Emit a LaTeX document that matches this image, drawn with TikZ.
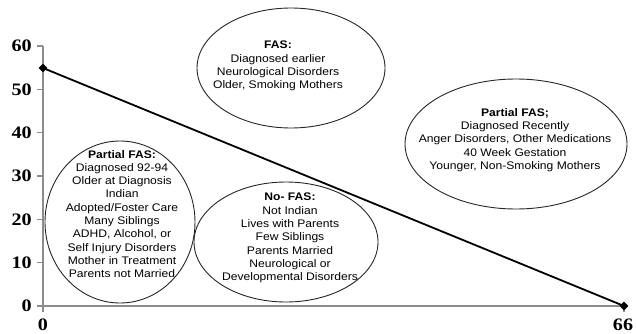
\documentclass[tikz,border=0pt]{standalone}
\usepackage{fontspec}
\setmainfont{Liberation Sans}
\newfontfamily\labfont[FakeStretch=1.1]{Liberation Sans}
\newfontfamily\tickfont[FakeStretch=1.15]{Liberation Serif}
\usetikzlibrary{shapes.geometric}
\begin{document}
\begin{tikzpicture}[x=1pt,y=-1pt,
  axisline/.style={draw=black!45, line width=1.3pt},
  blob/.style={draw=black!85, line width=0.9pt, ellipse, inner sep=0pt},
  txt/.style={align=center, font=\labfont\fontsize{11}{13.3}\selectfont, inner sep=0pt},
  ticklab/.style={font=\tickfont\bfseries\fontsize{17.5}{19}\selectfont, inner sep=0pt},
  dmark/.style={diamond, fill=black, minimum size=9pt, inner sep=0pt},
  dataline/.style={draw=black, line width=1.8pt}]
\useasboundingbox (0,0) rectangle (636,334);
% axes
\coordinate (ytop) at (43,46);
\coordinate (ybot) at (43,312);
\coordinate (xl) at (43,306);
\coordinate (xr) at (626,306);
\draw[axisline] (ytop) -- (ybot);
\draw[axisline] (xl) -- (xr);
\foreach \v/\yy in {0/306,10/262.7,20/219.3,30/176,40/132.7,50/89.3,60/46}{
  \coordinate (tk\v) at (37,\yy);
  \coordinate (ta\v) at (43,\yy);
  \draw[axisline] (tk\v) -- (ta\v);
  \node[ticklab, anchor=east] (yl\v) at (32,\yy) {\v};
}
\coordinate (xt1a) at (624,306);
\coordinate (xt1b) at (624,312);
\draw[axisline] (xt1a) -- (xt1b);
\node[ticklab] (xl0) at (43,324.5) {0};
\node[ticklab] (xl66) at (623,324.5) {66};
% data
\node[dmark] (p0) at (43,68) {};
\node[dmark] (p1) at (624,306) {};
\draw[dataline] (p0.center) -- (p1.center);
% ellipses
\node[blob, minimum width=150pt, minimum height=162pt] (el) at (120,222) {};
\node[txt] (elt) at (122,214) {\textbf{Partial FAS:}\\Diagnosed 92-94\\Older at Diagnosis\\Indian\\Adopted/Foster Care\\Many Siblings\\ADHD, Alcohol, or\\Self Injury Disorders\\Mother in Treatment\\Parents not Married};
\node[blob, minimum width=188pt, minimum height=120pt] (ef) at (291,68) {};
\node[txt] (eft) at (278,66) {\textbf{FAS:}\\Diagnosed earlier\\Neurological Disorders\\Older, Smoking Mothers};
\node[blob, minimum width=184pt, minimum height=120pt] (en) at (286,242) {};
\node[txt] (ent) at (290,238) {\textbf{No- FAS:}\\Not Indian\\Lives with Parents\\Few Siblings\\Parents Married\\Neurological or\\Developmental Disorders};
\node[blob, minimum width=222pt, minimum height=130pt] (er) at (516,144) {};
\node[txt] (ert) at (515,140) {\textbf{Partial FAS;}\\Diagnosed Recently\\Anger Disorders, Other Medications\\40 Week Gestation\\Younger, Non-Smoking Mothers};
\end{tikzpicture}
\end{document}
